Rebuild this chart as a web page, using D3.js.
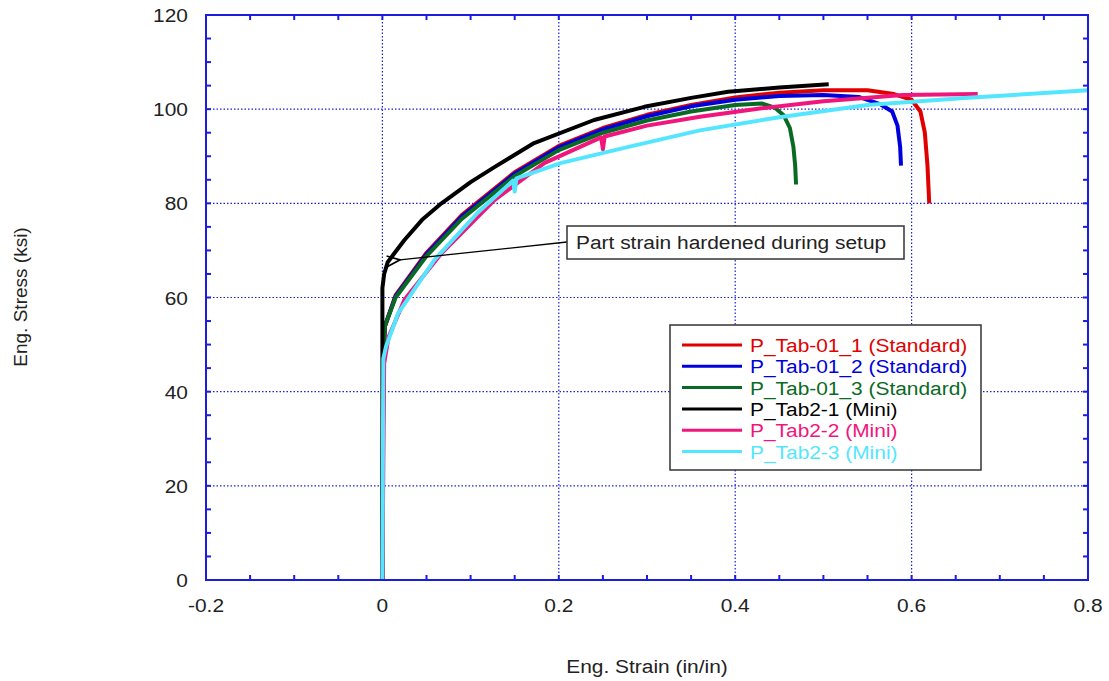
<!DOCTYPE html>
<html>
<head>
<meta charset="utf-8">
<script src="https://cdn.jsdelivr.net/npm/d3@7"></script>
<style>
  body { margin: 0; background: #fff; }
  text { font-family: "Liberation Sans", Arial, sans-serif; fill: #222; }
</style>
</head>
<body>
<div id="chart"></div>
<script>
// tick values / labels
var xTicks = [-0.2, 0, 0.2, 0.4, 0.6, 0.8];
var xTickLabels = ["-0.2", "0", "0.2", "0.4", "0.6", "0.8"];
var yTicks = [0, 20, 40, 60, 80, 100, 120];

// series names / colours
var seriesNames = ["P_Tab-01_1 (Standard)", "P_Tab-01_2 (Standard)", "P_Tab-01_3 (Standard)",
                   "P_Tab2-1 (Mini)", "P_Tab2-2 (Mini)", "P_Tab2-3 (Mini)"];
var seriesColors = ["#e00000", "#0000dd", "#0a6a23", "#000000", "#f0167c", "#55e6ff"];

// strain / stress
var tab011Strain = [0, 0.001, 0.003, 0.015, 0.05, 0.09, 0.15, 0.2, 0.25, 0.3, 0.35, 0.4, 0.45, 0.5, 0.55, 0.58, 0.6, 0.61, 0.615, 0.618, 0.62];
var tab011Stress = [0, 48, 54, 60.5, 69.5, 77.5, 86.6, 92.2, 96, 98.8, 100.9, 102.5, 103.5, 104, 104, 103.2, 102, 99.5, 95, 88, 80];

var tab012Strain = [0, 0.001, 0.003, 0.015, 0.05, 0.09, 0.15, 0.2, 0.25, 0.3, 0.35, 0.4, 0.45, 0.5, 0.54, 0.565, 0.578, 0.584, 0.587, 0.588];
var tab012Stress = [0, 48, 54, 60.3, 69.2, 77.2, 86.3, 91.9, 95.7, 98.5, 100.6, 102, 102.8, 103, 102.6, 101, 99.5, 96.5, 92, 88];

var tab013Strain = [0, 0.001, 0.003, 0.015, 0.05, 0.09, 0.15, 0.2, 0.25, 0.3, 0.35, 0.4, 0.43, 0.445, 0.455, 0.462, 0.466, 0.468, 0.469];
var tab013Stress = [0, 48, 54, 60, 68.8, 76.7, 85.8, 91.3, 95, 97.6, 99.5, 100.9, 101.2, 100.3, 98.7, 96, 92, 88, 84];

var tab21Strain = [0, 0, 0.002, 0.006, 0.014, 0.025, 0.045, 0.067, 0.1, 0.127, 0.172, 0.24, 0.297, 0.35, 0.392, 0.45, 0.506];
var tab21Stress = [0, 62, 65, 67.5, 69.5, 72.2, 76.5, 80, 84.5, 87.7, 92.8, 97.7, 100.5, 102.4, 103.7, 104.6, 105.3];

var tab22Strain = [0, 0.002, 0.007, 0.025, 0.067, 0.127, 0.184, 0.248, 0.25, 0.252, 0.3, 0.36, 0.43, 0.5, 0.59, 0.675];
var tab22Stress = [0, 46, 51.6, 59.5, 69.4, 80.7, 88.6, 94, 91.5, 94.2, 96.5, 98.4, 100.2, 101.7, 103, 103.2];

var tab23Strain = [0, 0.001, 0.004, 0.018, 0.059, 0.108, 0.148, 0.15, 0.152, 0.203, 0.279, 0.36, 0.45, 0.55, 0.664, 0.8];
var tab23Stress = [0, 47, 49.5, 56.7, 68, 78, 84.8, 82.5, 85.3, 88.6, 92, 95.5, 98.3, 100.9, 102.4, 104];

var strains = [tab011Strain, tab012Strain, tab013Strain, tab21Strain, tab22Strain, tab23Strain];
var stresses = [tab011Stress, tab012Stress, tab013Stress, tab21Stress, tab22Stress, tab23Stress];

var width = 1109, height = 681;
var margin = {top: 15, right: 21, bottom: 101, left: 206};
var axisColor = "#1c1ce0";
var fontSize = "19px";
var stretch = 1.1;   // the original text is a little wide

var svg = d3.select("#chart").append("svg")
  .attr("width", width)
  .attr("height", height);

var x = d3.scaleLinear().domain([-0.2, 0.8]).range([margin.left, width - margin.right]);
var y = d3.scaleLinear().domain([0, 120]).range([height - margin.bottom, margin.top]);

var x0 = x.range()[0], x1 = x.range()[1], y0 = y.range()[0], y1 = y.range()[1];

function wideText(g, tx, ty, str, anchor) {
  return g.append("text")
    .attr("transform", "translate(" + tx + "," + ty + ") scale(" + stretch + ",1)")
    .attr("text-anchor", anchor || "start")
    .style("font-size", fontSize)
    .text(str);
}

// dotted grid
svg.append("g").selectAll("line")
  .data(xTicks.slice(1, -1))
  .enter().append("line")
  .attr("x1", d => x(d)).attr("x2", d => x(d))
  .attr("y1", y1).attr("y2", y0)
  .attr("stroke", axisColor).attr("stroke-width", 1.2)
  .attr("stroke-dasharray", "1.5,2");

svg.append("g").selectAll("line")
  .data(yTicks.slice(1, -1))
  .enter().append("line")
  .attr("x1", x0).attr("x2", x1)
  .attr("y1", d => y(d)).attr("y2", d => y(d))
  .attr("stroke", axisColor).attr("stroke-width", 1.2)
  .attr("stroke-dasharray", "1.5,2");

// inward ticks on all four sides
var xMinor = d3.range(-0.15, 0.8, 0.05);
var yMinor = d3.range(5, 120, 5);
var tickLen = 5;

var ticks = svg.append("g").attr("stroke", axisColor).attr("stroke-width", 2);
xMinor.forEach(function(d) {
  ticks.append("line").attr("x1", x(d)).attr("x2", x(d)).attr("y1", y0).attr("y2", y0 - tickLen);
  ticks.append("line").attr("x1", x(d)).attr("x2", x(d)).attr("y1", y1).attr("y2", y1 + tickLen);
});
yMinor.forEach(function(d) {
  ticks.append("line").attr("x1", x0).attr("x2", x0 + tickLen).attr("y1", y(d)).attr("y2", y(d));
  ticks.append("line").attr("x1", x1).attr("x2", x1 - tickLen).attr("y1", y(d)).attr("y2", y(d));
});

// curves
var line = d3.line()
  .x(d => x(d[0]))
  .y(d => y(d[1]));

var plot = svg.append("g");
strains.forEach(function(s, i) {
  var pts = s.map((v, j) => [v, stresses[i][j]]);
  plot.append("path")
    .datum(pts)
    .attr("d", line)
    .attr("fill", "none")
    .attr("stroke", seriesColors[i])
    .attr("stroke-width", 4)
    .attr("stroke-linejoin", "round");
});

// frame
svg.append("rect")
  .attr("x", x0).attr("y", y1)
  .attr("width", x1 - x0).attr("height", y0 - y1)
  .attr("fill", "none")
  .attr("stroke", axisColor).attr("stroke-width", 2);

// tick labels
var xl = svg.append("g");
xTicks.forEach((d, i) => wideText(xl, x(d), y0 + 32, xTickLabels[i], "middle"));

var yl = svg.append("g");
yTicks.forEach(d => wideText(yl, x0 - 18, y(d) + 7, d, "end"));

// axis titles
wideText(svg, 647, 673, "Eng. Strain (in/in)", "middle");

svg.append("text")
  .attr("transform", "translate(27,297) rotate(-90)")
  .attr("text-anchor", "middle")
  .style("font-size", fontSize)
  .text("Eng. Stress (ksi)");

// annotation
svg.append("defs").append("marker")
  .attr("id", "arrow")
  .attr("viewBox", "0 0 12 10")
  .attr("refX", 1).attr("refY", 5)
  .attr("markerWidth", 12).attr("markerHeight", 10)
  .attr("orient", "auto")
  .append("path")
  .attr("d", "M11,1 L1,5 L11,9")
  .attr("fill", "none").attr("stroke", "#000").attr("stroke-width", 1.3);

svg.append("line")
  .attr("x1", 567).attr("y1", 242)
  .attr("x2", x(0.02)).attr("y2", y(68))
  .attr("stroke", "#000").attr("stroke-width", 1.3)
  .attr("marker-end", "url(#arrow)");

svg.append("rect")
  .attr("x", 567).attr("y", 226)
  .attr("width", 337).attr("height", 33)
  .attr("fill", "#fff").attr("stroke", "#333").attr("stroke-width", 1.5);

wideText(svg, 576, 249, "Part strain hardened during setup");

// legend
var legend = svg.append("g").attr("transform", "translate(670,325)");
legend.append("rect")
  .attr("width", 311).attr("height", 145)
  .attr("fill", "#fff").attr("stroke", "#333").attr("stroke-width", 1.5);

seriesNames.forEach(function(name, i) {
  var ly = 20 + i * 21.3;
  legend.append("line")
    .attr("x1", 12).attr("x2", 72)
    .attr("y1", ly).attr("y2", ly)
    .attr("stroke", seriesColors[i]).attr("stroke-width", 3);
  wideText(legend, 80, ly + 7, name).style("fill", seriesColors[i]);
});
</script>
</body>
</html>
